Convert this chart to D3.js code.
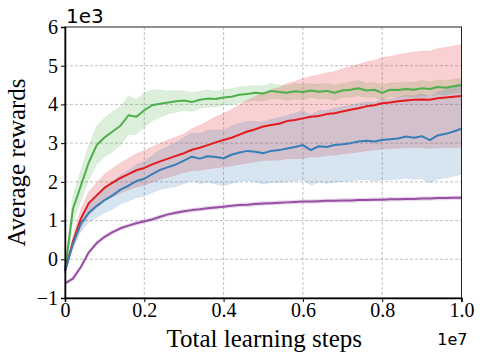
<!DOCTYPE html>
<html>
<head>
<meta charset="utf-8">
<script src="https://cdn.jsdelivr.net/npm/d3@7"></script>
<style>
  body { margin: 0; background: #fff; }
  svg { display: block; }
</style>
</head>
<body>
<script>
// steps in units of 1e7, rewards in units of 1e3
var steps = [0, 0.02, 0.04, 0.06, 0.08, 0.10, 0.12, 0.14, 0.16, 0.18,
  0.20, 0.22, 0.24, 0.26, 0.28, 0.30, 0.32, 0.34, 0.36, 0.38,
  0.40, 0.42, 0.44, 0.46, 0.48, 0.50, 0.52, 0.54, 0.56, 0.58,
  0.60, 0.62, 0.64, 0.66, 0.68, 0.70, 0.72, 0.74, 0.76, 0.78,
  0.80, 0.82, 0.84, 0.86, 0.88, 0.90, 0.92, 0.94, 0.96, 0.98, 1.00];

var greenMean = [-0.3, 1.3, 1.9, 2.5, 2.95, 3.15, 3.3, 3.45, 3.72, 3.68,
  3.85, 3.98, 4.02, 4.05, 4.08, 4.1, 4.06, 4.12, 4.15, 4.14,
  4.18, 4.2, 4.25, 4.27, 4.3, 4.28, 4.35, 4.32, 4.3, 4.34,
  4.32, 4.36, 4.33, 4.35, 4.3, 4.36, 4.38, 4.42, 4.36, 4.38,
  4.3, 4.38, 4.37, 4.4, 4.38, 4.42, 4.4, 4.45, 4.43, 4.47, 4.5];
var greenSpread = [0.05, 0.35, 0.4, 0.45, 0.5, 0.5, 0.52, 0.5, 0.5, 0.45,
  0.45, 0.4, 0.35, 0.3, 0.28, 0.25, 0.24, 0.22, 0.22, 0.2,
  0.2, 0.21, 0.2, 0.2, 0.19, 0.2, 0.2, 0.18, 0.19, 0.2,
  0.2, 0.18, 0.19, 0.2, 0.2, 0.18, 0.19, 0.2, 0.18, 0.19,
  0.2, 0.18, 0.19, 0.18, 0.19, 0.2, 0.18, 0.19, 0.18, 0.18, 0.18];

var redMean = [-0.3, 0.45, 1.05, 1.45, 1.65, 1.85, 1.98, 2.1, 2.2, 2.3,
  2.36, 2.45, 2.53, 2.6, 2.67, 2.74, 2.83, 2.88, 2.95, 3.02,
  3.08, 3.14, 3.22, 3.3, 3.36, 3.43, 3.47, 3.5, 3.57, 3.6,
  3.64, 3.68, 3.7, 3.75, 3.77, 3.82, 3.86, 3.9, 3.95, 3.98,
  4.03, 4.05, 4.08, 4.1, 4.12, 4.13, 4.12, 4.16, 4.18, 4.2, 4.22];
var redSpread = [0.05, 0.15, 0.25, 0.3, 0.33, 0.35, 0.37, 0.39, 0.41, 0.43,
  0.45, 0.46, 0.47, 0.48, 0.49, 0.5, 0.54, 0.58, 0.62, 0.66,
  0.69, 0.73, 0.77, 0.81, 0.85, 0.88, 0.91, 0.94, 0.97, 1.0,
  1.03, 1.04, 1.06, 1.07, 1.08, 1.1, 1.12, 1.13, 1.15, 1.16,
  1.18, 1.19, 1.21, 1.22, 1.23, 1.25, 1.26, 1.28, 1.3, 1.31, 1.33];

var blueMean = [-0.3, 0.4, 0.92, 1.2, 1.38, 1.53, 1.65, 1.8, 1.9, 2.02,
  2.08, 2.2, 2.31, 2.38, 2.45, 2.55, 2.65, 2.6, 2.66, 2.64,
  2.61, 2.7, 2.76, 2.8, 2.78, 2.74, 2.8, 2.82, 2.86, 2.9,
  2.95, 2.82, 2.92, 2.9, 2.95, 2.97, 3.0, 3.04, 3.06, 3.04,
  3.08, 3.1, 3.12, 3.17, 3.14, 3.18, 3.08, 3.2, 3.24, 3.3, 3.37];
var blueSpread = [0.05, 0.12, 0.2, 0.25, 0.3, 0.33, 0.36, 0.38, 0.4, 0.43,
  0.45, 0.48, 0.51, 0.54, 0.57, 0.6, 0.62, 0.65, 0.67, 0.7,
  0.72, 0.74, 0.75, 0.77, 0.78, 0.8, 0.82, 0.84, 0.86, 0.88,
  0.9, 0.91, 0.93, 0.94, 0.96, 0.97, 0.98, 0.99, 1.0, 1.02,
  1.03, 1.04, 1.06, 1.07, 1.08, 1.1, 1.11, 1.13, 1.14, 1.16, 1.17];

var purpleMean = [-0.62, -0.5, -0.2, 0.18, 0.42, 0.58, 0.7, 0.8, 0.87, 0.93,
  0.98, 1.03, 1.1, 1.16, 1.2, 1.24, 1.27, 1.29, 1.32, 1.34,
  1.36, 1.38, 1.4, 1.41, 1.43, 1.44, 1.45, 1.46, 1.47, 1.48,
  1.49, 1.49, 1.5, 1.51, 1.51, 1.52, 1.52, 1.53, 1.53, 1.54,
  1.54, 1.55, 1.55, 1.56, 1.56, 1.57, 1.57, 1.58, 1.58, 1.59, 1.59];
var purpleSpread = [0.04, 0.05, 0.05, 0.05, 0.05, 0.05, 0.05, 0.05, 0.05, 0.05,
  0.05, 0.05, 0.05, 0.05, 0.05, 0.05, 0.05, 0.05, 0.05, 0.05,
  0.05, 0.05, 0.05, 0.05, 0.05, 0.05, 0.05, 0.05, 0.05, 0.05,
  0.05, 0.05, 0.05, 0.05, 0.05, 0.05, 0.05, 0.05, 0.05, 0.05,
  0.05, 0.05, 0.05, 0.05, 0.05, 0.05, 0.05, 0.05, 0.05, 0.05, 0.05];

var xTicks = [0, 0.2, 0.4, 0.6, 0.8, 1.0];
var xTickLabels = ["0", "0.2", "0.4", "0.6", "0.8", "1.0"];
var yTicks = [-1, 0, 1, 2, 3, 4, 5, 6];
var yTickLabels = ["\u22121", "0", "1", "2", "3", "4", "5", "6"];

var series = [
  { mean: greenMean, spread: greenSpread, color: "#4daf4a" },
  { mean: redMean, spread: redSpread, color: "#e41a1c" },
  { mean: blueMean, spread: blueSpread, color: "#377eb8" },
  { mean: purpleMean, spread: purpleSpread, color: "#984ea3" }
];

var width = 483, height = 361;
var plotLeft = 65, plotRight = 461.5, plotTop = 27, plotBottom = 298;

var svg = d3.select("body").append("svg")
    .attr("width", width)
    .attr("height", height);

var x = d3.scaleLinear().domain([0, 1]).range([plotLeft, plotRight]);
var y = d3.scaleLinear().domain([-1, 6]).range([plotBottom, plotTop]);

// grid
var grid = svg.append("g");
grid.selectAll(".gx")
    .data(xTicks.slice(1, -1))
    .enter().append("line")
    .attr("x1", function (d) { return x(d); })
    .attr("x2", function (d) { return x(d); })
    .attr("y1", plotTop).attr("y2", plotBottom)
    .attr("stroke", "#b0b0b0").attr("stroke-width", 0.8)
    .attr("stroke-dasharray", "3,2");
grid.selectAll(".gy")
    .data(yTicks.slice(1, -1))
    .enter().append("line")
    .attr("y1", function (d) { return y(d); })
    .attr("y2", function (d) { return y(d); })
    .attr("x1", plotLeft).attr("x2", plotRight)
    .attr("stroke", "#b0b0b0").attr("stroke-width", 0.8)
    .attr("stroke-dasharray", "3,2");

var area = d3.area()
    .x(function (d, i) { return x(steps[i]); })
    .y0(function (d) { return y(d[0]); })
    .y1(function (d) { return y(d[1]); });

var line = d3.line()
    .x(function (d, i) { return x(steps[i]); })
    .y(function (d) { return y(d); });

var plot = svg.append("g");

series.forEach(function (s) {
  var band = s.mean.map(function (m, i) { return [m - s.spread[i], m + s.spread[i]]; });
  plot.append("path")
      .attr("d", area(band))
      .attr("fill", s.color)
      .attr("fill-opacity", 0.2)
      .attr("stroke", s.color)
      .attr("stroke-opacity", 0.15)
      .attr("stroke-width", 0.6);
});

series.forEach(function (s) {
  plot.append("path")
      .attr("d", line(s.mean))
      .attr("fill", "none")
      .attr("stroke", s.color)
      .attr("stroke-width", 2)
      .attr("stroke-linejoin", "round");
});

// frame
svg.append("rect")
    .attr("x", plotLeft).attr("y", plotTop)
    .attr("width", plotRight - plotLeft).attr("height", plotBottom - plotTop)
    .attr("fill", "none").attr("stroke", "#222").attr("stroke-width", 1);

var xAxis = svg.append("g")
    .attr("transform", "translate(0," + plotBottom + ")")
    .call(d3.axisBottom(x).tickValues(xTicks)
      .tickFormat(function (d, i) { return xTickLabels[i]; })
      .tickSize(4).tickPadding(1));
var yAxis = svg.append("g")
    .attr("transform", "translate(" + plotLeft + ",0)")
    .call(d3.axisLeft(y).tickValues(yTicks)
      .tickFormat(function (d, i) { return yTickLabels[i]; })
      .tickSize(4).tickPadding(3));

[xAxis, yAxis].forEach(function (a) {
  a.select(".domain").attr("stroke", "#000").attr("stroke-width", 1.5);
  a.selectAll(".tick line").attr("stroke", "#000").attr("stroke-width", 1);
  a.selectAll(".tick text")
      .attr("fill", "#000")
      .style("font-family", "'Liberation Serif', 'Times New Roman', serif")
      .style("font-size", "20px");
});

svg.append("text")
    .attr("x", plotLeft + 1).attr("y", 23)
    .style("font-family", "'DejaVu Sans', sans-serif")
    .style("font-size", "20px")
    .text("1e3");

svg.append("text")
    .attr("x", plotRight + 6).attr("y", 345)
    .attr("text-anchor", "end")
    .style("font-family", "'DejaVu Sans', sans-serif")
    .style("font-size", "16px")
    .text("1e7");

svg.append("text")
    .attr("x", (plotLeft + plotRight) / 2 + 1).attr("y", 347)
    .attr("text-anchor", "middle")
    .style("font-family", "'Liberation Serif', 'Times New Roman', serif")
    .style("font-size", "25px")
    .text("Total learning steps");

svg.append("text")
    .attr("transform", "translate(25," + ((plotTop + plotBottom) / 2) + ") rotate(-90)")
    .attr("text-anchor", "middle")
    .style("font-family", "'Liberation Serif', 'Times New Roman', serif")
    .style("font-size", "25px")
    .text("Average rewards");
</script>
</body>
</html>
